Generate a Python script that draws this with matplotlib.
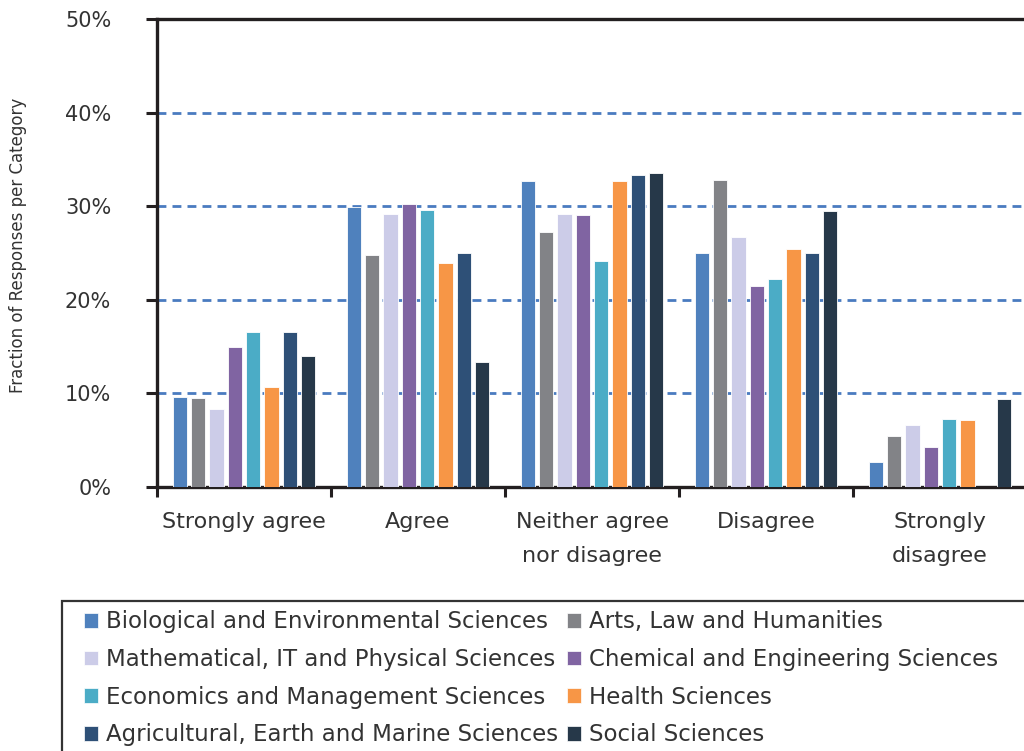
import numpy as np
import matplotlib
matplotlib.use('Agg')
import matplotlib.pyplot as plt
from matplotlib.patches import Patch, Rectangle
from matplotlib.ticker import FuncFormatter

# Data (fraction in %)
categories = ['Strongly agree', 'Agree', 'Neither agree\nnor disagree', 'Disagree', 'Strongly\ndisagree']
series = ['Biological and Environmental Sciences', 'Arts, Law and Humanities',
          'Mathematical, IT and Physical Sciences', 'Chemical and Engineering Sciences',
          'Economics and Management Sciences', 'Health Sciences',
          'Agricultural, Earth and Marine Sciences', 'Social Sciences']
bio = [9.6, 29.9, 32.7, 25.0, 2.7]
arts = [9.5, 24.8, 27.2, 32.8, 5.5]
maths = [8.3, 29.2, 29.2, 26.7, 6.6]
chem = [15.0, 30.2, 29.1, 21.5, 4.3]
econ = [16.6, 29.6, 24.1, 22.2, 7.3]
health = [10.7, 23.9, 32.7, 25.4, 7.2]
agri = [16.6, 25.0, 33.3, 25.0, 0.0]
social = [14.0, 13.4, 33.5, 29.5, 9.4]
values = [bio, arts, maths, chem, econ, health, agri, social]
colors = ['#4F81BD', '#828387', '#CCCCE8', '#8064A2', '#4BACC6', '#F79646', '#2E5077', '#263849']

plt.rcParams['font.family'] = ['DejaVu Sans']
text_col = '#333333'
axis_col = '#231F20'

fig = plt.figure(figsize=(10.24, 7.51), dpi=100)
ax = fig.add_axes([157 / 1024, 1 - 487 / 751, 870 / 1024, 468 / 751])

x = np.arange(len(categories))
pitch = 0.105
for i, (vals, c) in enumerate(zip(values, colors)):
    ax.bar(x + (i - 3.5) * pitch, vals, width=0.082, color=c,
           edgecolor='white', linewidth=0.6, zorder=3)

ax.set_xlim(-0.5, len(categories) - 0.5)
ax.set_ylim(0, 50)
ax.set_yticks([0, 10, 20, 30, 40, 50])
ax.yaxis.set_major_formatter(FuncFormatter(lambda v, p: f'{v:.0f}%'))
for y in [10, 20, 30, 40]:
    ax.axhline(y, color='#4A7BC0', linestyle=(0, (3.2, 2.2)), linewidth=2.0, zorder=1)

ax.set_xticks(x)
ax.set_xticklabels(categories, fontsize=16, color=text_col, linespacing=1.9)
ax.set_xticks(np.arange(-0.5, len(categories) + 0.5, 1), minor=True)
ax.tick_params(axis='x', which='major', length=0, pad=18)
ax.tick_params(axis='x', which='minor', length=7, width=2.2, color=axis_col, direction='out')
ax.tick_params(axis='y', length=8, width=2.2, color=axis_col, pad=25, labelsize=15, labelcolor=text_col)

for s in ['left', 'bottom', 'top']:
    ax.spines[s].set_color(axis_col)
    ax.spines[s].set_linewidth(2.4)
ax.spines['right'].set_visible(False)

fig.text(18 / 1024, 1 - 245 / 751, 'Fraction of Responses per Category', rotation=90,
         ha='center', va='center', fontsize=12, color=text_col)

# legend box runs past the right and bottom edges, as in the reference
fig.patches.append(Rectangle((62 / 1024, -0.05), 1.0, 1 - 601 / 751 + 0.05,
                             transform=fig.transFigure, facecolor='none',
                             edgecolor='#333333', linewidth=1.6))

# legend, filled row by row like the reference
order = [0, 2, 4, 6, 1, 3, 5, 7]
handles = [Patch(facecolor=colors[i], edgecolor='white', linewidth=0.5) for i in order]
labels = [series[i] for i in order]
leg = fig.legend(handles, labels, loc='upper left', ncol=2,
                 bbox_to_anchor=(74 / 1024, 1 - 600 / 751), frameon=False,
                 fontsize=16.5, handlelength=0.6, handleheight=0.6, handletextpad=0.35,
                 columnspacing=0.4, labelspacing=0.64, borderpad=0.45, borderaxespad=0,
                 labelcolor=text_col)

fig.savefig('out.png', dpi=100)
